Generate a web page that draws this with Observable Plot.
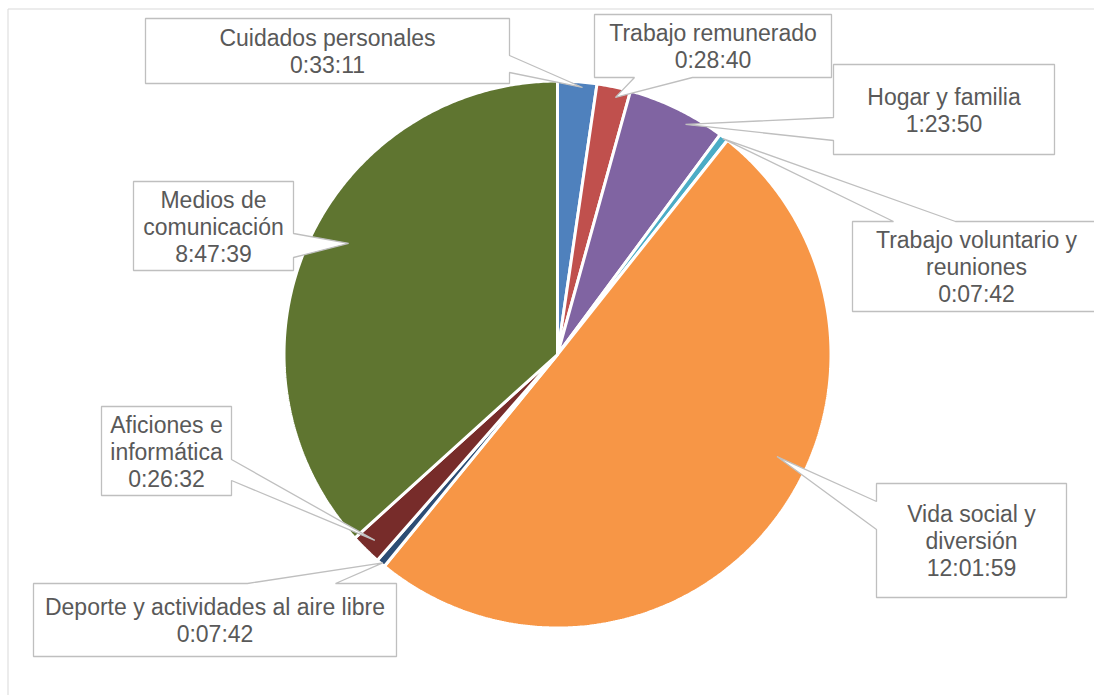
<!DOCTYPE html>
<html>
<head>
<meta charset="utf-8">
<script src="https://cdn.jsdelivr.net/npm/d3@7"></script>
<script src="https://cdn.jsdelivr.net/npm/@observablehq/plot@0.6"></script>
<style>
  html, body { margin: 0; padding: 0; background: #ffffff; overflow: hidden; }
  #chart svg { display: block; }
</style>
</head>
<body>
<div id="chart"></div>
<script>
// ---------- DATA ----------
const categories = [
  "Cuidados personales",
  "Trabajo remunerado",
  "Hogar y familia",
  "Trabajo voluntario y reuniones",
  "Vida social y diversión",
  "Deporte y actividades al aire libre",
  "Aficiones e informática",
  "Medios de comunicación"
];
const durations = ["0:33:11", "0:28:40", "1:23:50", "0:07:42", "12:01:59", "0:07:42", "0:26:32", "8:47:39"];
const colors = ["#4F81BD", "#C0504D", "#8064A2", "#4BACC6", "#F79646", "#2C4D75", "#772C2A", "#5F7530"];
// label text as displayed (line breaks)
const labelNames = [
  "Cuidados personales",
  "Trabajo remunerado",
  "Hogar y familia",
  "Trabajo voluntario y\nreuniones",
  "Vida social y\ndiversión",
  "Deporte y actividades al aire libre",
  "Aficiones e\ninformática",
  "Medios de\ncomunicación"
];

// ---------- LAYOUT ----------
const W = 1094, H = 695;
const CX = 557, CY = 354, R = 272, SEP = 3;
// callout boxes [x1,y1,x2,y2], side of pointer, pointer base, tip angle offset (deg) and radius fraction
const calloutLayout = [
  {box: [145, 18, 509, 83],   side: "right",  base: [55, 72],   dA: 1.2,   rf: 0.986},
  {box: [594, 14, 831, 77],   side: "bottom", base: [634, 692], dA: 0.8,   rf: 0.969},
  {box: [833, 64, 1054, 154], side: "left",   base: [117, 140], dA: 3.1,   rf: 0.968},
  {box: [852, 221, 1100, 311],side: "top",    base: [893, 955], dA: 0.0,   rf: 1.0},
  {box: [876, 483, 1066, 597],side: "left",   base: [501, 529], dA: -13.9, rf: 0.89},
  {box: [33, 583, 396, 656],  side: "top",    base: [247, 335], dA: -0.25, rf: 1.0},
  {box: [101, 406, 231, 495], side: "right",  base: [459, 480], dA: 0.0,   rf: 0.958},
  {box: [133, 181, 293, 270], side: "right",  base: [233, 257], dA: 4.1,   rf: 0.87}
];

// ---------- BUILD ----------
const toSec = s => { const [h, m, x] = s.split(":").map(Number); return h * 3600 + m * 60 + x; };
const rows = categories.map((c, i) => ({
  category: c, duration: durations[i], seconds: toSec(durations[i]), color: colors[i],
  label: labelNames[i] + "\n" + durations[i], layout: calloutLayout[i]
}));
const arcs = d3.pie().sort(null).value(d => d.seconds).startAngle(0).endAngle(2 * Math.PI)(rows);
const polar = (a, r) => [CX + r * Math.sin(a), CY - r * Math.cos(a)];

const wedgePts = arcs.flatMap(a => {
  const span = a.endAngle - a.startAngle;
  const n = Math.max(2, Math.ceil(span / (Math.PI / 360)));
  const pts = [{name: a.data.category, color: a.data.color, p: [CX, CY]}];
  for (let k = 0; k <= n; k++) {
    pts.push({name: a.data.category, color: a.data.color, p: polar(a.startAngle + span * k / n, R + SEP / 2)});
  }
  return pts;
});

const calloutPts = arcs.flatMap(a => {
  const L = a.data.layout;
  const [x1, y1, x2, y2] = L.box;
  const mid = (a.startAngle + a.endAngle) / 2 + L.dA * Math.PI / 180;
  const tip = polar(mid, L.rf * R);
  const [b1, b2] = L.base;
  let v;
  if (L.side === "right") v = [[x1,y1],[x2,y1],[x2,b1],tip,[x2,b2],[x2,y2],[x1,y2]];
  else if (L.side === "left") v = [[x1,y1],[x2,y1],[x2,y2],[x1,y2],[x1,b2],tip,[x1,b1]];
  else if (L.side === "top") v = [[x1,y1],[b1,y1],tip,[b2,y1],[x2,y1],[x2,y2],[x1,y2]];
  else v = [[x1,y1],[x2,y1],[x2,y2],[b2,y2],tip,[b1,y2],[x1,y2]];
  return v.map(p => ({name: a.data.category, p}));
});

const labelRows = rows.map(d => ({
  label: d.label,
  cx: (d.layout.box[0] + d.layout.box[2]) / 2,
  cy: (d.layout.box[1] + d.layout.box[3]) / 2
}));

const borderPts = [[7.5, H], [7.5, 8.5], [W, 8.5]];
const FONT = "'Liberation Sans', Arial, Helvetica, sans-serif";

const chart = Plot.plot({
  width: W,
  height: H,
  margin: 0,
  x: {domain: [0, W], range: [0, W], axis: null},
  y: {domain: [0, H], range: [0, H], axis: null},
  color: {type: "identity"},
  style: {fontFamily: FONT, background: "#ffffff"},
  marks: [
    Plot.line(borderPts, {x: d => d[0], y: d => d[1], stroke: "#D9D9D9", strokeWidth: 1}),
    Plot.line(wedgePts, {
      x: d => d.p[0], y: d => d.p[1], z: "name", fill: "color",
      stroke: "#ffffff", strokeWidth: SEP, curve: "linear-closed", strokeLinejoin: "miter"
    }),
    Plot.line(calloutPts, {
      x: d => d.p[0], y: d => d.p[1], z: "name", fill: "#ffffff",
      stroke: "#BFBFBF", strokeWidth: 1.3, curve: "linear-closed", strokeLinejoin: "miter"
    }),
    Plot.text(labelRows, {
      x: "cx", y: "cy", text: "label", fontSize: 23, lineHeight: 1.17,
      fill: "#595959", fontFamily: FONT, textAnchor: "middle"
    })
  ]
});
document.getElementById("chart").appendChild(chart);
</script>
</body>
</html>
